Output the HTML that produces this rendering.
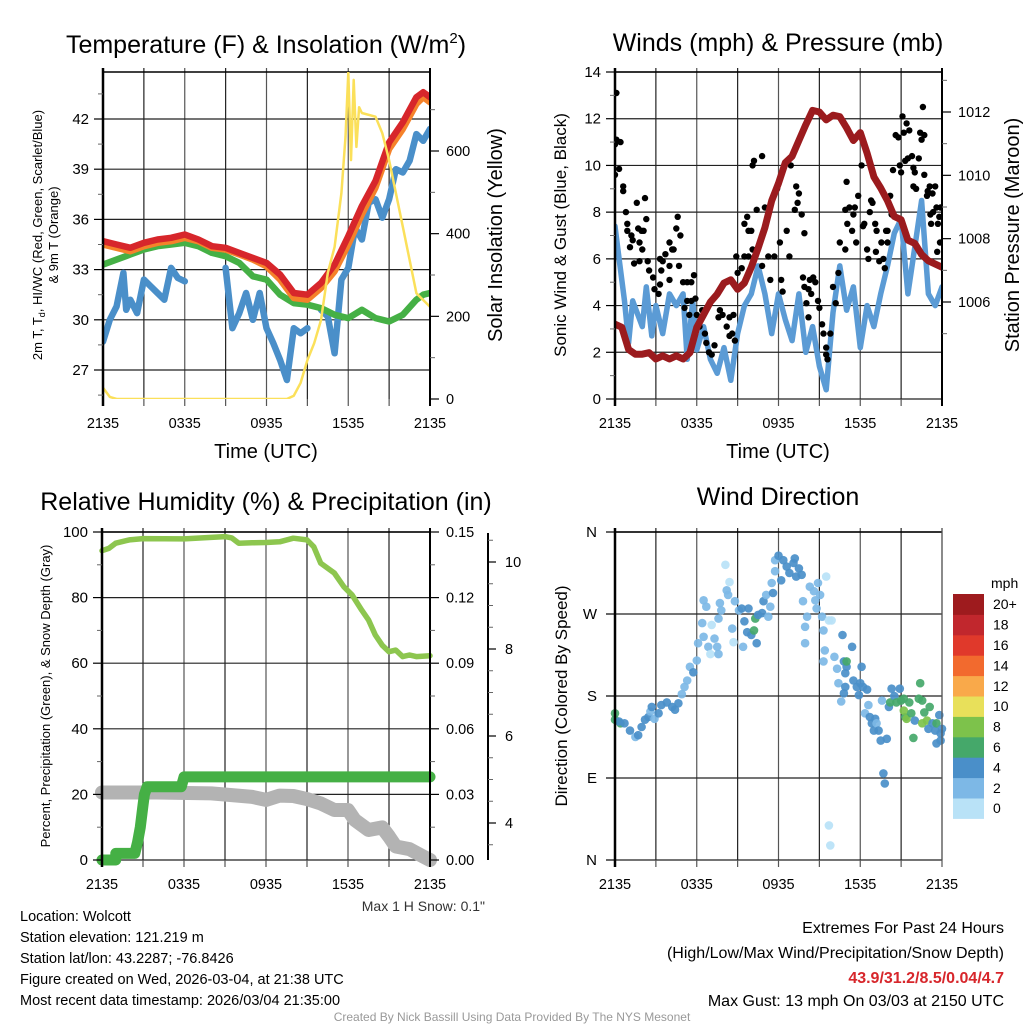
<!DOCTYPE html>
<html><head><meta charset="utf-8"><title>Wolcott Mesonet Meteogram</title>
<style>
html,body{margin:0;padding:0;background:#fff;}
svg{display:block;font-family:"Liberation Sans",Arial,sans-serif;}
</style></head>
<body>
<svg id="chart" xmlns="http://www.w3.org/2000/svg" width="1024" height="1024" viewBox="0 0 1024 1024">
<rect width="1024" height="1024" fill="#fff"/>
<text x="266" y="53" font-size="25" text-anchor="middle">Temperature (F) &amp; Insolation (W/m<tspan font-size="15" dy="-10">2</tspan><tspan dy="10">)</tspan></text>
<text x="778" y="51" font-size="25" text-anchor="middle">Winds (mph) &amp; Pressure (mb)</text>
<text x="266" y="510" font-size="25" text-anchor="middle">Relative Humidity (%) &amp; Precipitation (in)</text>
<text x="778" y="505" font-size="25" text-anchor="middle">Wind Direction</text>

<text x="266" y="458" font-size="20" text-anchor="middle">Time (UTC)</text>
<text x="778" y="458" font-size="20" text-anchor="middle">Time (UTC)</text>

<text transform="translate(42,235) rotate(-90)" font-size="13" text-anchor="middle">2m T, T<tspan font-size="9" dy="3">d</tspan><tspan dy="-3">, HI/WC (Red, Green, Scarlet/Blue)</tspan></text>
<text transform="translate(58,235) rotate(-90)" font-size="13" text-anchor="middle">&amp; 9m T (Orange)</text>
<text transform="translate(502,235) rotate(-90)" font-size="20" text-anchor="middle">Solar Insolation (Yellow)</text>
<text transform="translate(566,235) rotate(-90)" font-size="17" text-anchor="middle">Sonic Wind &amp; Gust (Blue, Black)</text>
<text transform="translate(1019,235) rotate(-90)" font-size="20" text-anchor="middle">Station Pressure (Maroon)</text>
<text transform="translate(50,696) rotate(-90)" font-size="13" text-anchor="middle">Percent, Precipitation (Green), &amp; Snow Depth (Gray)</text>
<text transform="translate(567,696) rotate(-90)" font-size="17" text-anchor="middle">Direction (Colored By Speed)</text>

<text x="485" y="911" font-size="14" fill="#333" text-anchor="end">Max 1 H Snow: 0.1"</text>
<g font-size="14.5">
<text x="20" y="921">Location: Wolcott</text>
<text x="20" y="942">Station elevation: 121.219 m</text>
<text x="20" y="963">Station lat/lon: 43.2287; -76.8426</text>
<text x="20" y="984">Figure created on Wed, 2026-03-04, at 21:38 UTC</text>
<text x="20" y="1005">Most recent data timestamp: 2026/03/04 21:35:00</text>
</g>
<g font-size="16" text-anchor="end">
<text x="1004" y="933">Extremes For Past 24 Hours</text>
<text x="1004" y="958">(High/Low/Max Wind/Precipitation/Snow Depth)</text>
<text x="1004" y="983" fill="#d7262b" font-weight="bold">43.9/31.2/8.5/0.04/4.7</text>
<text x="1004" y="1006">Max Gust: 13 mph On 03/03 at 2150 UTC</text>
</g>
<text x="512" y="1021" font-size="12" fill="#999" text-anchor="middle">Created By Nick Bassill Using Data Provided By The NYS Mesonet</text>
</svg>
<script>
// ---------- data ----------
const timeTicks = ["2135","0335","0935","1535","2135"];
// Temperature panel (hours since 2135)
const tempHours = [0,1,2,3,4,5,6,7,8,9,10,11,12,13,14,15,16,17,18,19,20,21,22,23,23.5,24];
const tempRed   = [34.7,34.5,34.3,34.6,34.8,34.9,35.1,34.8,34.4,34.3,34.0,33.7,33.4,32.7,31.6,31.5,32.2,33.3,35.0,36.8,38.3,40.6,41.8,43.3,43.6,43.3];
const tempOrange= [34.5,34.3,34.1,34.4,34.6,34.7,34.9,34.7,34.3,34.2,33.9,33.6,33.2,32.4,31.3,31.2,31.9,32.9,34.5,36.3,37.9,40.2,41.4,42.9,43.3,43.0];
const dewGreen  = [33.3,33.6,33.9,34.2,34.4,34.5,34.6,34.4,34.0,33.8,33.4,32.6,32.4,31.5,31.0,30.9,30.7,30.3,30.1,30.6,30.1,29.9,30.3,31.2,31.5,31.6];
const blueHours = [0,0.5,1,1.5,1.7,2,2.5,3,3.5,4,4.5,5,5.5,6,null,9,9.5,10,10.5,11,11.5,12,12.5,13,13.5,14,14.5,15,null,16,16.5,17,17.5,18,18.5,19,19.5,20,20.5,21,21.5,22,22.5,23,23.5,24];
const blueVals  = [28.7,30.0,30.8,32.8,30.6,31.2,30.4,32.4,32.0,31.6,31.2,33.1,32.5,32.3,null,33.1,29.5,30.4,31.6,30.0,31.6,29.5,28.6,27.6,26.4,29.5,29.2,29.5,null,30.6,30.2,28.0,32.4,33.1,35.5,34.8,37.0,37.2,36.1,37.2,39.0,38.8,39.5,41.1,40.7,41.4];
const insolHours= [0,0.5,1,13.5,14,14.5,15,15.5,16,16.5,17,17.5,17.8,18,18.2,18.4,18.6,18.8,19,20,20.5,21,22,23,24];
const insolVals = [27,5,0,0,8,39,94,135,191,305,368,498,634,790,578,772,610,706,692,683,643,578,417,256,223];
const tempTicks = [27,30,33,36,39,42];
const insolTicks = [0,200,400,600];
// Wind panel
const windHours = [0,0.3,0.7,1,1.3,2,2.3,2.7,3,3.5,4,4.5,5,5.3,5.7,6,6.5,7,7.5,8,8.5,9,9.5,10,10.5,11,11.5,12,12.5,13,13.5,14,14.5,15,15.5,16,16.5,17,17.5,18,18.5,19,19.5,20,20.5,21,21.5,22,22.5,23,23.5,24];
const windVals  = [7.4,6.0,4.2,2.4,4.2,3.1,4.8,2.7,4.0,2.8,4.5,4.0,4.5,1.7,4.2,2.1,3.1,1.7,1.1,2.2,0.8,2.8,4.0,4.5,5.7,4.5,2.8,4.5,3.4,2.5,4.5,2.0,3.1,1.4,0.4,3.7,5.7,3.8,4.8,2.2,4.0,3.1,4.5,5.7,7.1,7.7,4.5,6.5,8.5,4.5,4.0,4.8];
const pressHours= [0,0.5,1,1.5,2,2.5,3,3.5,4,4.5,5,5.5,6,6.5,7,7.5,8,8.5,9,9.5,10,10.5,11,11.5,12,12.5,13,13.5,14,14.5,15,15.5,16,16.5,17,17.5,18,18.5,19,19.5,20,20.5,21,21.5,22,22.5,23,24];
const pressVals = [1005.3,1005.2,1004.5,1004.35,1004.35,1004.4,1004.2,1004.3,1004.2,1004.3,1004.2,1004.4,1005.2,1005.6,1006.0,1006.25,1006.6,1006.7,1006.4,1006.6,1007.1,1007.7,1008.35,1009.2,1009.75,1010.4,1010.6,1011.1,1011.6,1012.05,1012.0,1011.75,1011.9,1011.85,1011.5,1011.1,1011.35,1010.7,1009.95,1009.6,1009.2,1008.7,1008.6,1007.95,1007.85,1007.5,1007.3,1007.1];
const gustHours = [0.1,0,0.1,0.4,0,0.3,0.6,0.6,0.8,0.9,0.9,1.2,1.3,1.1,1.4,1.6,1.7,1.95,2.1,2.2,2.3,2.0,1.8,1.8,2.4,2.5,2.8,2.9,3.2,3.3,3.4,3.3,3.5,3.7,4.0,4.0,4.2,4.0,4.3,4.5,4.6,4.8,4.7,5.0,5.3,5.6,5.8,5.3,5.6,5.9,5.1,5.45,6.0,6.2,6.4,6.6,6.7,6.9,7.1,7.3,7.6,7.7,7.9,8.2,8.4,8.7,8.4,8.8,8.6,8.9,9.0,9.3,9.5,9.5,9.7,9.8,10.0,9.8,10.1,10.4,10.1,10.2,10.8,11.0,10.8,11.25,11.4,11.7,11.9,12.1,12.2,12.3,12.6,12.8,12.9,13.3,13.5,13.4,13.2,13.7,13.9,13.8,13.9,14.2,14.3,14.55,14.7,14.4,14.05,14.2,14.9,15.0,15.2,15.3,15.8,15.5,15.6,15.5,16.0,16.2,16.4,16.5,16.9,17.0,16.9,17.05,17.2,17.5,17.6,17.85,17.7,17.4,18.1,18.2,18.3,18.5,18.6,18.7,18.8,18.9,19.1,19.2,19.15,19.4,19.55,19.7,19.8,19.9,20.0,20.0,20.3,20.2,20.4,20.6,20.8,20.9,21.0,21.1,21.2,21.4,21.6,21.3,21.5,21.8,21.9,22.0,21.9,22.1,22.3,22.4,22.5,22.7,22.6,22.7,22.9,22.95,23.1,23.3,23.5,23.15,23.35,23.6,23.8,23.9,24.0,23.85,23.2,23.7,23.65];
const gustVals  = [13.1,10.9,11.1,11.0,9.6,9.85,9.1,8.9,8.0,7.5,7.2,7.0,6.8,6.5,5.8,8.4,7.3,7.2,7.2,8.6,7.7,6.4,6.7,5.9,5.9,5.5,5.2,4.7,4.5,4.9,5.5,6.0,5.9,6.2,5.1,5.7,6.4,6.7,6.4,7.3,7.8,7.0,5.7,5.0,5.0,5.0,5.3,4.2,4.2,4.3,3.9,3.6,3.6,3.1,3.8,2.8,2.4,2.0,1.9,2.3,3.5,3.8,3.6,3.1,3.5,3.6,2.7,2.5,2.8,6.1,5.4,5.6,6.1,7.5,7.8,7.2,7.2,6.1,6.4,8.1,10.0,10.2,10.4,8.2,5.7,6.1,5.1,6.1,9.0,6.7,5.1,4.6,7.2,6.1,10.0,9.1,8.8,8.4,8.1,7.9,7.1,5.2,4.8,4.7,5.1,5.2,5.0,4.5,4.1,3.5,4.2,3.9,3.2,2.8,2.8,2.2,1.7,1.9,4.8,4.1,5.4,6.7,6.4,9.3,8.1,7.5,8.2,7.9,8.2,8.7,6.7,7.2,10.0,7.4,7.5,6.4,6.0,8.0,8.5,8.4,7.5,7.2,6.3,5.9,6.7,6.0,5.6,7.2,7.2,6.7,7.9,8.7,9.8,11.3,11.2,10.0,9.7,12.1,11.4,11.8,11.5,10.2,10.3,10.4,9.9,9.7,9.1,9.0,10.3,11.4,11.1,11.3,12.5,9.6,8.7,8.9,9.1,8.8,9.1,7.9,8.0,8.2,7.8,8.2,8.2,6.7,7.5,7.5,6.3];
const windTicks = [0,2,4,6,8,10,12,14];
const pressTicks = [1006,1008,1010,1012];
// Humidity panel
const rhHours = [0,0.5,1,2,3,6,9,9.5,10,11,12,13,14,15,15.5,16,17,17.7,18.3,19,19.5,20,20.5,21,21.5,22,22.5,23,24];
const rhVals  = [94.3,95,96.6,97.6,98,97.9,98.6,98.2,96.6,96.7,96.8,97,98.1,97.6,95.5,90.5,87.5,83.3,80.8,76.2,73.2,68.6,65.5,63.5,64,62,62.5,62,62.3];
const precipHours = [0,1,1.01,2.4,2.6,2.8,3.0,3.1,3.3,5.8,6.0,24];
const precipVals  = [0,0,0.003,0.003,0.008,0.015,0.025,0.030,0.0335,0.0335,0.038,0.038];
const snowHours = [0,4,8,11,12,13,14,15,16,17,18,18.5,19.5,20.5,21,21.5,22.5,23.5,24];
const snowVals  = [4.7,4.7,4.68,4.6,4.53,4.63,4.62,4.55,4.45,4.3,4.3,4.07,3.84,3.9,3.69,3.46,3.4,3.23,3.15];
const pctTicks = [0,20,40,60,80,100];
const precipTicks = ["0.00","0.03","0.06","0.09","0.12","0.15"];
const snowTicks = [4,6,8,10];
// Wind direction panel
const dirHours = [0,0,0.4,0.3,0.7,1.1,1.5,1.7,1.95,2.2,2.45,2.6,2.7,2.9,3.2,3.4,3.8,4.2,4.4,4.65,4.9,5.1,5.3,5.5,5.75,6.0,6.1,6.4,6.5,6.7,6.5,6.85,7.1,7.0,7.3,7.5,7.6,7.6,7.7,7.8,8.1,8.2,8.4,8.3,8.6,8.7,8.8,9.1,9.3,9.4,9.5,9.8,9.7,10.0,10.2,10.3,10.4,10.5,10.8,10.9,11.1,11.4,11.25,11.6,11.5,11.75,11.75,12.0,12.2,12.35,12.6,12.8,13.1,13.2,13.3,13.7,13.5,13.8,14.1,13.95,13.95,14.3,14.6,14.9,14.7,14.8,15.05,15.2,15.3,15.5,15.7,15.9,15.4,15.3,15.7,15.8,16.1,16.3,16.4,16.6,16.7,16.8,16.9,17.0,17.0,16.8,16.9,17.4,17.5,17.75,17.9,18.0,18.1,18.2,18.35,18.5,18.6,18.7,18.85,19.0,19.1,19.2,19.35,19.5,19.7,19.8,19.95,19.6,20.1,20.3,20.2,20.5,20.65,20.9,21.0,21.2,21.3,21.4,21.2,21.6,21.75,21.9,22.0,22.3,22.4,22.55,22.7,22.55,22.9,23.0,23.1,23.3,23.5,23.6,23.8,23.9,24.0,23.6,23.9];
const dirVals  = [161,154,150,152,150,142,135,137,146,154,157,163,168,155,161,170,173,168,165,172,182,190,197,212,206,219,238,260,285,278,245,234,258,226,243,234,226,265,282,274,324,296,305,291,254,239,284,274,276,234,262,276,250,247,252,265,238,269,271,284,291,278,267,293,304,317,329,334,307,329,322,315,326,331,311,313,320,284,267,256,238,300,295,304,285,276,291,267,252,311,263,263,230,218,38,16,223,210,194,174,247,218,205,212,218,183,190,234,197,190,181,194,212,190,161,187,170,157,150,142,155,150,142,131,95,84,133,175,168,188,173,180,173,188,175,177,157,155,164,173,161,134,153,177,194,175,162,150,153,144,168,150,142,150,159,139,144,128,131];
const dirSpeeds= [7,7,7,5,5,5,3,5,5,5,5,3,5,3,5,5,5,5,5,5,3,3,3,3,5,3,3,3,3,3,3,3,1,1,3,3,3,3,3,3,1,3,1,3,3,1,3,3,5,3,5,5,5,5,7,7,5,5,5,5,3,3,3,5,3,3,3,5,5,5,5,5,5,5,5,5,5,3,3,3,3,3,3,3,3,3,3,3,3,1,1,1,3,3,1,1,3,3,3,3,5,5,5,5,7,5,5,5,5,5,5,5,5,5,3,5,3,5,5,5,5,3,5,5,5,5,5,3,5,5,7,5,7,5,7,7,7,9,9,7,7,7,5,7,7,7,7,9,9,5,7,5,5,7,5,5,5,5,5];
const dirTickLabels = ["N","E","S","W","N"];
const speedBinLabels = ["0","2","4","6","8","10","12","14","16","18","20+"];
const speedBinColors = ["#b9e2f7","#7db8e6","#4a8fc9","#45a86a","#7dc24b","#e8e05a","#f9a94a","#f26a2e","#e0392b","#c1272d","#9e1b1e"];

// ---------- helpers ----------
const NS = "http://www.w3.org/2000/svg";
const svg = document.getElementById("chart");
function mk(tag, attrs, parent){
  const e = document.createElementNS(NS, tag);
  for (const k in attrs) e.setAttribute(k, attrs[k]);
  (parent||svg).appendChild(e);
  return e;
}
function linear(d0,d1,r0,r1){ return v => r0 + (v-d0)/(d1-d0)*(r1-r0); }
function pathFrom(xs, ys, fx, fy){
  let d = "", pen = false;
  for (let i=0;i<xs.length;i++){
    if (xs[i]===null || ys[i]===null){ pen=false; continue; }
    d += (pen?"L":"M") + fx(xs[i]).toFixed(1) + " " + fy(ys[i]).toFixed(1);
    pen = true;
  }
  return d;
}

function frame(name, X0, X1, Y0, Y1, hLines){
  const g = mk("g", {});
  
  
  for (let i=0;i<=8;i++){
    const x = X0 + i*(X1-X0)/8;
    const l = mk("line", {x1:x, x2:x, y1:Y0-4, y2:Y1, stroke: (i%2? "#222":"#555"), "stroke-width":1.2}, g);
    
    
  }
  hLines.forEach(y => {
    const l = mk("line", {x1:X0, x2:X1, y1:y, y2:y, stroke:"#222", "stroke-width":1.2}, g);
    
    
  });
  const t = mk("line", {x1:X0, x2:X1, y1:Y0, y2:Y0, stroke:"#000", "stroke-width":1.5}, g);
  
  
  for (let i=0;i<=8;i++){
    const x = X0 + i*(X1-X0)/8;
    const tk = mk("line", {x1:x, x2:x, y1:Y1, y2:Y1+7, stroke:"#555", "stroke-width":1.2}, g);
    
    
  }
  timeTicks.forEach((lab,i) => {
    const x = X0 + i*(X1-X0)/4;
    const tx = mk("text", {x:x, y:Y1+29, "font-size":14.5, "text-anchor":"middle"}, g);
    tx.textContent = lab;
    
    
  });
  return g;
}
function leftAxis(X0, Y0, Y1, ticks, fy, minorStep){
  const g = mk("g", {});
  
  
  const a = mk("line", {x1:X0, x2:X0, y1:Y0-4, y2:Y1+7, stroke:"#000", "stroke-width":2.5}, g);
  
  
  ticks.forEach(v => {
    const y = fy(v);
    const l = mk("line", {x1:X0-9, x2:X0, y1:y, y2:y, stroke:"#000", "stroke-width":1.2}, g);
    
    
    const t = mk("text", {x:X0-14, y:y+5, "font-size":15, "text-anchor":"end"}, g);
    t.textContent = v;
    
    
  });
  if (minorStep){
    for (let v=ticks[0]-minorStep; v<=ticks[ticks.length-1]+minorStep; v+=minorStep*2){
      const y = fy(v);
      if (y<Y0||y>Y1) continue;
      const l = mk("line", {x1:X0-5, x2:X0, y1:y, y2:y, stroke:"#666", "stroke-width":1}, g);
      
      
    }
  }
}
function rightAxis(AX, Y0, Y1, ticks, labels, fy, minorVals, labelX){
  const g = mk("g", {});
  
  
  const a = mk("line", {x1:AX, x2:AX, y1:Y0-4, y2:Y1+7, stroke:"#000", "stroke-width":2}, g);
  
  
  ticks.forEach((v,i) => {
    const y = fy(v);
    const l = mk("line", {x1:AX, x2:AX+9, y1:y, y2:y, stroke:"#000", "stroke-width":1.2}, g);
    
    
    const t = mk("text", {x:labelX, y:y+5, "font-size":14.5}, g);
    t.textContent = labels[i];
    
    
  });
  minorVals.forEach(v => {
    const y = fy(v);
    if (y<Y0-1||y>Y1+1) return;
    const l = mk("line", {x1:AX, x2:AX+5, y1:y, y2:y, stroke:"#666", "stroke-width":1}, g);
    
    
  });
}
function line(d, color, w, name, op){
  const p = mk("path", {d:d, fill:"none", stroke:color, "stroke-width":w, "stroke-linejoin":"round", "stroke-linecap":"round", opacity: op||1});
  
  
  return p;
}

// ---------- Panel 1: temperature ----------
{
  const X0=103,X1=430,Y0=72,Y1=399;
  const fx = linear(0,24,X0,X1);
  const fy = linear(42,27,119,370);
  const fi = linear(0,600,399,151);
  frame("temperature", X0,X1,Y0,Y1, tempTicks.map(fy));
  const clip = mk("clipPath",{id:"c1"}); mk("rect",{x:X0,y:Y0,width:X1-X0,height:Y1-Y0},clip);
  const g = mk("g",{"clip-path":"url(#c1)"});
  
  
  g.appendChild(line(pathFrom(blueHours, blueVals, fx, fy), "#4a8fc9", 6.5, "heat-index-wind-chill-line"));
  g.appendChild(line(pathFrom(tempHours, dewGreen, fx, fy), "#45b045", 6.5, "dewpoint-line"));
  g.appendChild(line(pathFrom(tempHours, tempOrange, fx, fy), "#f5822a", 6.5, "9m-temperature-line"));
  g.appendChild(line(pathFrom(tempHours, tempRed, fx, fy), "#d7262b", 6.5, "2m-temperature-line"));
  g.appendChild(line(pathFrom(insolHours, insolVals, fx, fi), "#fbe05a", 2.5, "solar-insolation-line"));
  leftAxis(X0,Y0,Y1,tempTicks,fy,1.5);
  rightAxis(X1,Y0,Y1,insolTicks,insolTicks,fi,[100,300,500,700],446);
}
// ---------- Panel 2: winds ----------
{
  const X0=615,X1=942,Y0=72,Y1=399;
  const fx = linear(0,24,X0,X1);
  const fy = linear(0,14,399,72);
  const fp = linear(1012,1006,112,302);
  frame("wind", X0,X1,Y0,Y1, windTicks.map(fy));
  const clip = mk("clipPath",{id:"c2"}); mk("rect",{x:X0,y:Y0,width:X1-X0,height:Y1-Y0},clip);
  const g = mk("g",{"clip-path":"url(#c2)"});
  
  
  g.appendChild(line(pathFrom(windHours, windVals, fx, fy), "#5b9bd5", 5.5, "sonic-wind-line"));
  gustHours.forEach((h,i) => {
    const c = mk("circle",{cx:fx(h).toFixed(1), cy:fy(gustVals[i]).toFixed(1), r:3.2, fill:"#000"}, g);
    
    
  });
  g.appendChild(line(pathFrom(pressHours, pressVals, fx, fp), "#9b1b1e", 7, "pressure-line"));
  leftAxis(X0,Y0,Y1,windTicks,fy,1);
  rightAxis(X1,Y0,Y1,pressTicks,pressTicks,fp,[1005,1007,1009,1011,1013],958);
}
// ---------- Panel 3: humidity ----------
{
  const X0=102,X1=430,Y0=532,Y1=860;
  const fx = linear(0,24,X0,X1);
  const fy = linear(0,100,860,532);
  const fpr = linear(0,0.15,860,532);
  const fs = linear(4,10,823,562);
  frame("humidity", X0,X1,Y0,Y1, pctTicks.map(fy));
  const clip = mk("clipPath",{id:"c3"}); mk("rect",{x:X0-8,y:Y0,width:X1-X0+16,height:Y1-Y0+8},clip);
  const g = mk("g",{"clip-path":"url(#c3)"});
  
  
  g.appendChild(line(pathFrom(snowHours, snowVals, fx, fs), "#b3b3b3", 14, "snow-depth-line"));
  g.appendChild(line(pathFrom(precipHours, precipVals, fx, fpr), "#45b045", 11, "precipitation-line"));
  g.appendChild(line(pathFrom(rhHours, rhVals, fx, fy), "#8dc64f", 5.5, "relative-humidity-line"));
  leftAxis(X0,Y0,Y1,pctTicks,fy,10);
  const pv = precipTicks.map(Number);
  rightAxis(X1,Y0,Y1,pv,precipTicks,fpr,[0.015,0.045,0.075,0.105,0.135,0.165],446);
  const sg = mk("g",{});
  
  
  mk("line",{x1:488,x2:488,y1:533,y2:860,stroke:"#000","stroke-width":2},sg);
  snowTicks.forEach(v => {
    const y = fs(v);
    const l = mk("line",{x1:488,x2:496,y1:y,y2:y,stroke:"#000","stroke-width":1.2},sg);
    
    
    const t = mk("text",{x:505,y:y+5,"font-size":14.5},sg);
    t.textContent = v;
    
    
  });
  [3.5,4.5,5,5.5,6.5,7,7.5,8.5,9,9.5,10.5].forEach(v => {
    const y = fs(v);
    if (y<533||y>860) return;
    mk("line",{x1:488,x2:493,y1:y,y2:y,stroke:"#666","stroke-width":1},sg);
  });
}
// ---------- Panel 4: wind direction ----------
{
  const X0=615,X1=942,Y0=532,Y1=860;
  const fx = linear(0,24,X0,X1);
  const fy = linear(0,360,860,532);
  frame("direction", X0,X1,Y0,Y1, [0,90,180,270,360].map(fy));
  const g = mk("g",{});
  
  
  dirHours.forEach((h,i) => {
    const bin = Math.min(10, Math.floor(dirSpeeds[i]/2));
    const c = mk("circle",{cx:fx(h).toFixed(1), cy:fy(dirVals[i]).toFixed(1), r:4.3, fill:speedBinColors[bin], opacity:0.92}, g);
    
    
  });
  const ag = mk("g",{});
  
  
  mk("line",{x1:X0,x2:X0,y1:Y0-4,y2:Y1+7,stroke:"#000","stroke-width":2.5},ag);
  dirTickLabels.forEach((lab,i) => {
    const y = fy(i*90);
    mk("line",{x1:X0-9,x2:X0,y1:y,y2:y,stroke:"#000","stroke-width":1.2},ag);
    const t = mk("text",{x:X0-18,y:y+5,"font-size":15,"text-anchor":"end"},ag);
    t.textContent = lab;
    
    
  });
  const rb = mk("line",{x1:X1,x2:X1,y1:Y0-4,y2:Y1,stroke:"#555","stroke-width":1.2});
  
  
  const cb = mk("g",{});
  
  
  const mt = mk("text",{x:991,y:588,"font-size":14},cb);
  mt.textContent = "mph";
  
  
  const bh = 20.4;
  speedBinLabels.forEach((lab,i) => {
    const k = 10 - i;
    const y = 594 + (k)*bh;
    const r = mk("rect",{x:953,y:y.toFixed(1),width:31,height:(bh+0.5).toFixed(1),fill:speedBinColors[i]},cb);
    
    
    const t = mk("text",{x:993,y:(y+bh/2+5).toFixed(1),"font-size":14},cb);
    t.textContent = lab;
    
    
  });
}
</script>
</body></html>
